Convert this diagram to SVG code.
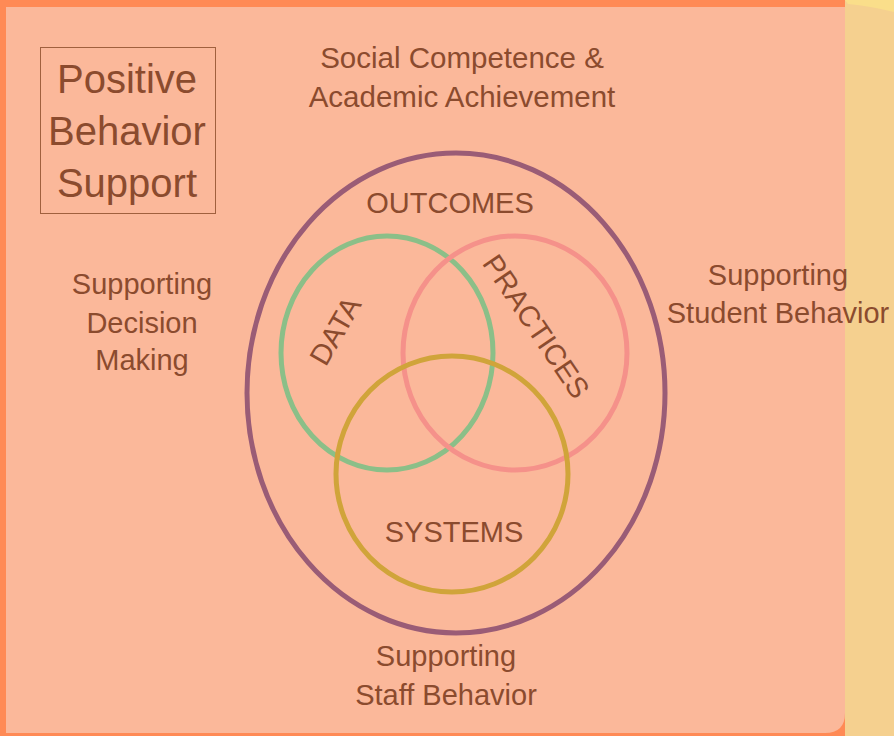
<svg xmlns="http://www.w3.org/2000/svg" width="894" height="736" viewBox="0 0 894 736">
<style>
.t{font-family:"Liberation Sans",Arial,sans-serif;fill:#8B4B2E;text-anchor:middle;font-size:29px}
.e{fill:none;stroke-width:5}
</style>
<rect x="0" y="0" width="894" height="736" fill="#FF8A55"/>
<rect x="845" y="0" width="49" height="736" fill="#F5D08F"/>
<path d="M845 0 L894 0 L894 12 Q870 6 848 4 Z" fill="#FADE8A"/>
<path d="M6 7 H845 V713 Q845 733 825 733 H6 Z" fill="#FBB89A"/>
<g id="title">
<rect x="40.5" y="47.5" width="175" height="166" fill="none" stroke="#A0603E" stroke-width="1"/>
<text class="t" x="127" y="93" style="font-size:40px">Positive</text>
<text class="t" x="127" y="145" style="font-size:40px">Behavior</text>
<text class="t" x="127" y="197" style="font-size:40px">Support</text>
</g>
<g id="social">
<text class="t" x="462" y="68" style="font-size:29.5px">Social Competence &amp;</text>
<text class="t" x="462" y="107" style="font-size:29.5px">Academic Achievement</text>
</g>
<g id="outcomes">
<ellipse class="e" cx="456" cy="393" rx="209" ry="240" stroke="#9A5C76"/>
<text class="t" x="450" y="213">OUTCOMES</text>
</g>
<g id="data">
<ellipse class="e" cx="387" cy="353" rx="106" ry="117" stroke="#8BBF88"/>
<text class="t" transform="translate(344,336) rotate(-60)">DATA</text>
</g>
<g id="practices">
<ellipse class="e" cx="515" cy="353" rx="112" ry="117" stroke="#F5918A"/>
<text class="t" transform="translate(528,332) rotate(56)">PRACTICES</text>
</g>
<g id="systems">
<ellipse class="e" cx="452" cy="474" rx="116" ry="118" stroke="#D0A43A"/>
<text class="t" x="454" y="542">SYSTEMS</text>
</g>
<g id="decision">
<text class="t" x="142" y="294">Supporting</text>
<text class="t" x="142" y="333">Decision</text>
<text class="t" x="142" y="370">Making</text>
</g>
<g id="student">
<text class="t" x="778" y="285">Supporting</text>
<text class="t" x="778" y="323">Student Behavior</text>
</g>
<g id="staff">
<text class="t" x="446" y="666">Supporting</text>
<text class="t" x="446" y="705">Staff Behavior</text>
</g>
<g id="connectors"/>
</svg>
